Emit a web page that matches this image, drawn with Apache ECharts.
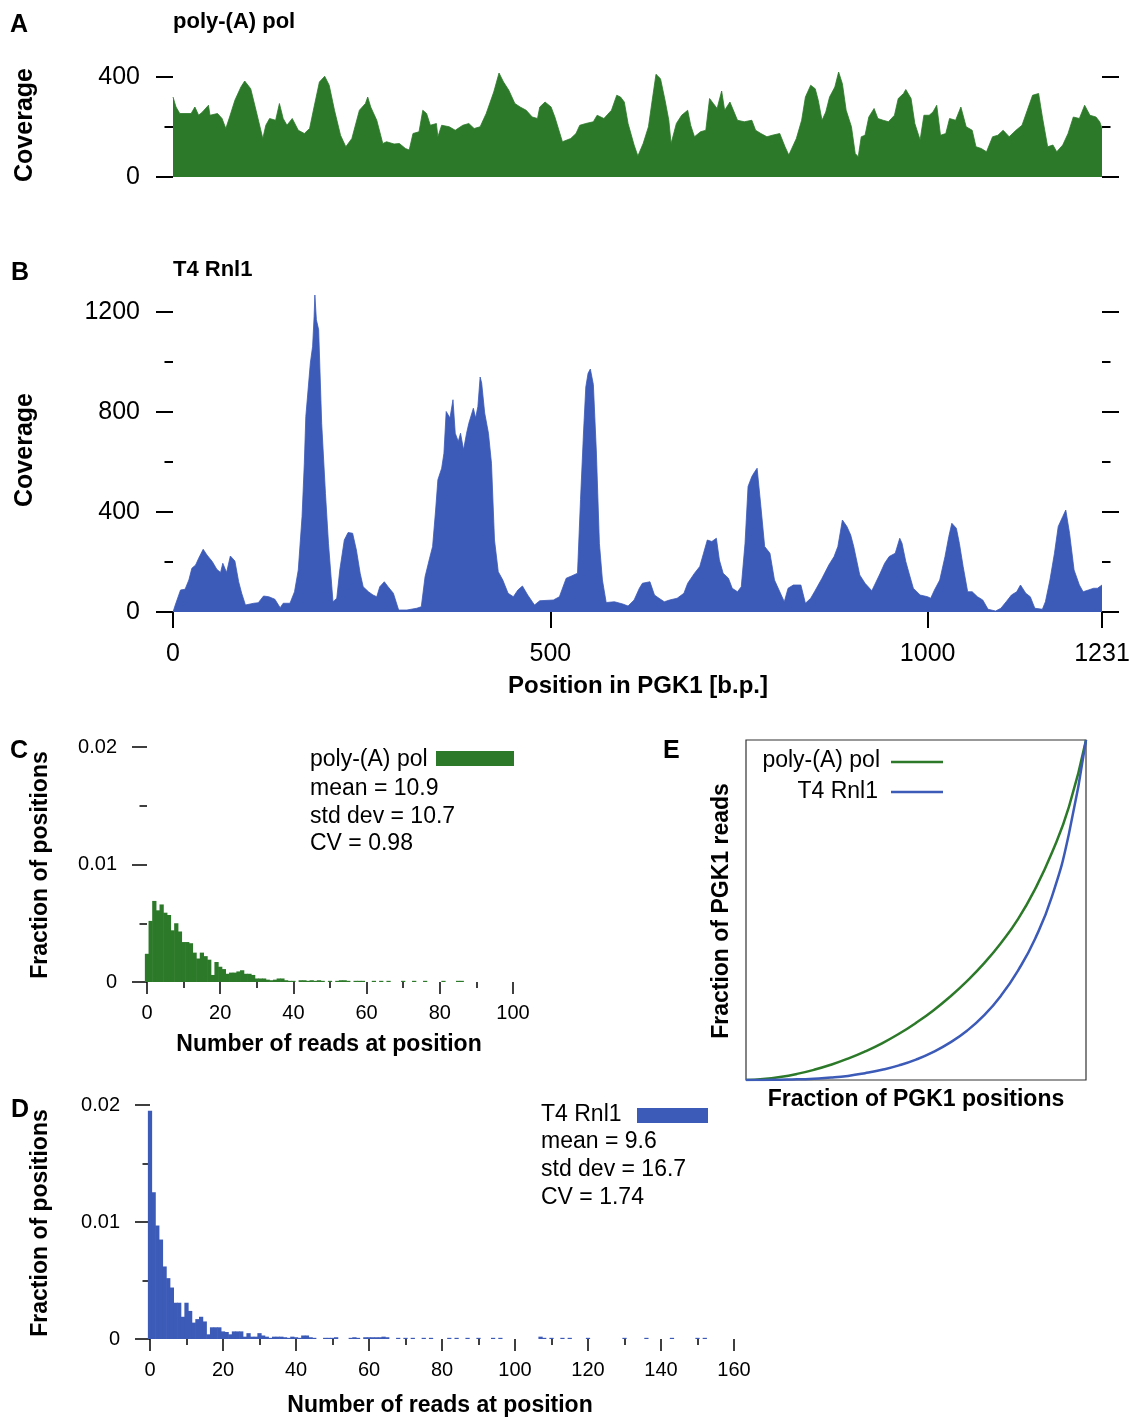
<!DOCTYPE html>
<html>
<head>
<meta charset="utf-8">
<script src="https://cdn.jsdelivr.net/npm/echarts@6/dist/echarts.min.js"></script>
<style>
  html, body { margin: 0; padding: 0; background: #fff; }
  #chart { width: 1140px; height: 1423px; }
</style>
</head>
<body>
<div id="chart"></div>
<script>
// ---- Coverage along PGK1 (position in b.p. -> read coverage) ----
const posA = [0, 4, 9, 24, 29, 34, 39, 47, 49, 59, 65, 70, 75, 82, 90, 95, 103, 110, 119, 123,
  128, 136, 141, 146, 151, 158, 166, 174, 181, 186, 194, 201, 207, 214, 222, 229, 237, 247, 255, 258,
  262, 270, 278, 283, 293, 300, 308, 313, 318, 326, 331, 336, 341, 349, 351, 356, 366, 374, 384, 392,
  399, 407, 415, 425, 432, 438, 445, 453, 460, 468, 476, 483, 486, 493, 501, 506, 516, 527, 534, 539,
  547, 557, 562, 571, 581, 588, 593, 598, 603, 611, 616, 623, 630, 635, 640, 646, 652, 657, 660, 667,
  674, 682, 686, 691, 699, 706, 711, 716, 721, 727, 731, 738, 748, 757, 767, 772, 779, 787, 794, 804,
  811, 816, 826, 833, 838, 845, 851, 855, 860, 865, 870, 877, 882, 887, 892, 899, 904, 908, 912, 917,
  922, 929, 934, 941, 948, 956, 961, 968, 971, 978, 983, 990, 995, 1002, 1007, 1012, 1017, 1024, 1029, 1037,
  1044, 1051, 1059, 1064, 1071, 1078, 1086, 1093, 1100, 1108, 1117, 1125, 1132, 1139, 1147, 1152, 1159, 1166, 1171, 1179,
  1186, 1193, 1201, 1208, 1215, 1223, 1228, 1231];
const covA = [320, 280, 254, 254, 280, 247, 260, 287, 247, 254, 234, 194, 240, 307, 360, 384, 353, 267, 154, 207,
  234, 227, 294, 234, 207, 234, 187, 174, 194, 267, 380, 403, 367, 267, 167, 121, 154, 267, 294, 320,
  280, 227, 134, 141, 132, 134, 114, 108, 174, 181, 267, 254, 207, 214, 161, 207, 201, 187, 207, 214,
  194, 201, 254, 340, 416, 380, 347, 294, 280, 267, 240, 234, 280, 300, 280, 240, 141, 154, 174, 207,
  214, 221, 247, 234, 267, 327, 320, 300, 214, 128, 84, 134, 201, 307, 411, 393, 307, 227, 134, 214,
  247, 267, 207, 161, 181, 187, 314, 294, 274, 344, 267, 300, 227, 221, 227, 187, 174, 161, 167, 174,
  121, 88, 154, 227, 320, 367, 353, 307, 227, 260, 320, 360, 420, 373, 267, 201, 94, 81, 161, 167,
  240, 274, 234, 227, 221, 247, 314, 334, 350, 314, 214, 148, 247, 247, 260, 287, 167, 174, 234, 227,
  280, 201, 187, 121, 114, 101, 161, 167, 187, 161, 187, 207, 267, 327, 334, 240, 121, 128, 101, 128,
  174, 240, 234, 287, 247, 240, 221, 194];

const posB = [0, 3, 10, 16, 21, 25, 30, 34, 40, 45, 47, 52, 58, 63, 66, 71, 76, 82, 87, 91,
  96, 107, 113, 120, 127, 135, 142, 146, 155, 161, 166, 171, 174, 176, 182, 185, 187, 188, 190, 193,
  197, 202, 206, 212, 217, 221, 227, 232, 238, 243, 248, 252, 259, 265, 270, 274, 280, 285, 292, 299,
  310, 323, 329, 334, 340, 344, 348, 351, 356, 359, 362, 367, 371, 374, 378, 381, 385, 389, 392, 398,
  401, 404, 407, 409, 413, 418, 422, 426, 431, 437, 444, 451, 457, 463, 470, 479, 486, 504, 512, 521,
  528, 536, 540, 544, 547, 550, 553, 557, 561, 565, 569, 574, 585, 596, 603, 611, 618, 622, 632, 638,
  644, 651, 658, 668, 677, 682, 691, 698, 703, 708, 714, 720, 724, 729, 736, 741, 748, 753, 758, 762,
  767, 771, 774, 779, 784, 791, 797, 803, 810, 815, 822, 832, 838, 845, 850, 860, 869, 876, 881, 887,
  893, 898, 902, 910, 917, 926, 936, 943, 949, 957, 963, 966, 971, 976, 981, 990, 1000, 1004, 1009, 1016,
  1023, 1028, 1032, 1038, 1042, 1047, 1053, 1059, 1066, 1073, 1080, 1090, 1097, 1104, 1111, 1118, 1123, 1130, 1136, 1142,
  1152, 1156, 1162, 1168, 1173, 1179, 1183, 1188, 1194, 1201, 1206, 1213, 1220, 1225, 1231];
const covB = [0, 28, 88, 91, 128, 175, 188, 215, 251, 228, 232, 202, 171, 158, 195, 158, 224, 204, 121, 75,
  28, 35, 37, 64, 61, 51, 17, 35, 35, 81, 168, 382, 595, 782, 996, 1063, 1183, 1268, 1169, 1129,
  755, 475, 275, 41, 55, 168, 288, 318, 315, 248, 155, 101, 81, 68, 61, 101, 121, 101, 75, 8,
  8, 15, 21, 141, 215, 262, 408, 529, 575, 635, 802, 776, 849, 715, 682, 715, 649, 715, 755, 815,
  776, 822, 940, 916, 796, 715, 595, 288, 161, 128, 75, 61, 88, 104, 68, 28, 45, 48, 61, 135,
  144, 155, 450, 720, 900, 955, 972, 910, 640, 275, 128, 38, 41, 32, 24, 48, 95, 115, 121, 68,
  55, 41, 48, 55, 75, 115, 155, 182, 235, 288, 282, 295, 208, 155, 135, 95, 81, 101, 275, 502,
  542, 562, 575, 422, 262, 235, 128, 88, 41, 95, 108, 108, 35, 55, 81, 135, 188, 222, 262, 368,
  342, 308, 262, 148, 115, 85, 148, 195, 222, 235, 295, 275, 202, 148, 95, 68, 61, 55, 88, 128,
  222, 302, 355, 335, 275, 182, 81, 81, 61, 48, 11, 4, 15, 41, 68, 81, 108, 75, 61, 15,
  11, 41, 128, 235, 342, 382, 408, 315, 168, 108, 81, 88, 95, 95, 108];

const positionTicks = [0, 500, 1000, 1231];

// ---- Read-count histograms (bin = reads at a position, value = fraction of positions) ----
const fracC = [0.0024, 0.0052, 0.0069, 0.0061, 0.0066, 0.0059, 0.0057, 0.0044, 0.0050, 0.0043,
  0.0034, 0.0034, 0.0033, 0.0025, 0.0020, 0.0025, 0.0022, 0.0019, 0.0006, 0.0017,
  0.0013, 0.0011, 0.0007, 0.0008, 0.0008, 0.0009, 0.0010, 0.0007, 0.0007, 0.0006,
  0.0003, 0.0003, 0.0003, 0.0002, 0.00015, 0.0002, 0.0003, 0.0003, 0.00015, 0.0001,
  0.0001];
const tailBinsC = [42, 43, 44, 45, 46, 47, 48, 50, 52, 53, 54, 55, 57, 58, 59, 62, 64, 66, 70, 73, 76, 81, 85, 86];
const tailFracC = [0.00015, 0.00015, 0.0001, 0.00015, 0.0001, 0.00015, 0.0001, 0.0001, 0.0001, 0.00015, 0.00015, 0.0001,
  0.0001, 0.0001, 0.0001, 0.0001, 0.0001, 0.0001, 0.0001, 0.0001, 0.0001, 0.0001, 0.0001, 0.0001];

const fracD = [0.0195, 0.01255, 0.0097, 0.0085, 0.0062, 0.0052, 0.0044, 0.0031, 0.0031, 0.0019,
  0.0031, 0.0024, 0.0014, 0.0017, 0.0019, 0.0015, 0.0004, 0.0010, 0.0010, 0.0010,
  0.00065, 0.0006, 0.0004, 0.00065, 0.00065, 0.00065, 0.0002, 0.0005, 0.0002, 0.0002,
  0.0005, 0.0003, 0.0002, 0.0001, 0.0002, 0.0002, 0.0002, 0.00015, 0.0001, 0.0002,
  0.00015, 0.0001, 0.0003, 0.0003, 0.00015, 0.0001];
const tailBinsD = [48, 49, 50, 51, 55, 56, 57, 59, 60, 61, 62, 63, 64, 65, 68, 70, 72, 75, 77, 82,
  84, 87, 90, 94, 96, 107, 108, 110, 113, 115, 120, 130, 136, 143, 150, 152];
const tailFracD = [0.0001, 0.0001, 0.0001, 0.00015, 0.0001, 0.00015, 0.0001, 0.00015, 0.00015, 0.00015,
  0.00015, 0.00015, 0.0002, 0.00015, 0.0001, 0.0001, 0.0001, 0.0001, 0.0001, 0.0001,
  0.0001, 0.0001, 0.0001, 0.0001, 0.0001, 0.0002, 0.0001, 0.0001, 0.0001, 0.0001,
  0.0001, 0.0001, 0.0001, 0.0001, 0.0001, 0.0001];

// ---- Cumulative read fraction vs. fraction of positions ----
const lorenzX = [0, 0.05, 0.1, 0.15, 0.2, 0.25, 0.3, 0.35, 0.4, 0.45, 0.5,
  0.55, 0.6, 0.65, 0.7, 0.75, 0.8, 0.85, 0.9, 0.95, 1];
const lorenzPolyA = [0, 0.003, 0.009, 0.018, 0.030, 0.045, 0.063, 0.084, 0.108, 0.136, 0.168,
  0.204, 0.245, 0.291, 0.343, 0.403, 0.473, 0.561, 0.669, 0.804, 1];
const lorenzRnl1 = [0, 0, 0.001, 0.002, 0.004, 0.007, 0.012, 0.020, 0.030, 0.043, 0.060,
  0.082, 0.11, 0.145, 0.19, 0.248, 0.322, 0.415, 0.54, 0.725, 1];

const statsC = ['mean = 10.9', 'std dev = 10.7', 'CV = 0.98'];
const statsD = ['mean = 9.6', 'std dev = 16.7', 'CV = 1.74'];

// ---- Styling ----
const GREEN = '#2c7a29';
const BLUE = '#3c5ab7';
const FONT = '"Liberation Sans", Arial, Helvetica, sans-serif';

function pairs(xs, ys) { return xs.map((x, i) => [x, ys[i]]); }
const plain = (v) => String(v);

function coverageYAxis(grid, max, position, withLabels) {
  return {
    gridIndex: grid, type: 'value', position: position, min: 0, max: max, interval: 400,
    axisLine: { show: false },
    axisTick: { show: true, length: 17, lineStyle: { color: '#000', width: 2 } },
    minorTick: { show: true, splitNumber: 2, length: 8.5, lineStyle: { color: '#000', width: 2 } },
    axisLabel: { show: withLabels, fontSize: 25, fontFamily: FONT, color: '#000', margin: 33, formatter: plain },
    splitLine: { show: false }, minorSplitLine: { show: false }
  };
}

function histXAxis(grid, max) {
  return {
    gridIndex: grid, type: 'value', min: 0, max: max, interval: 20, offset: 2,
    axisLine: { show: false },
    axisTick: { show: true, length: 12, lineStyle: { color: '#000', width: 1.5 } },
    minorTick: { show: true, splitNumber: 2, length: 6, lineStyle: { color: '#000', width: 1.5 } },
    axisLabel: { fontSize: 20, fontFamily: FONT, color: '#000', margin: 19, formatter: plain },
    splitLine: { show: false }, minorSplitLine: { show: false }
  };
}

function histYAxis(grid) {
  return {
    gridIndex: grid, type: 'value', min: 0, max: 0.02, interval: 0.01, offset: 1,
    axisLine: { show: false },
    axisTick: { show: true, length: 15, lineStyle: { color: '#000', width: 1.5 } },
    minorTick: { show: true, splitNumber: 2, length: 7.5, lineStyle: { color: '#000', width: 1.5 } },
    axisLabel: { fontSize: 20, fontFamily: FONT, color: '#000', margin: 29, formatter: plain },
    splitLine: { show: false }, minorSplitLine: { show: false }
  };
}

// one rectangle per read-count bin, spanning [bin - 0.5, bin + 0.5];
// a small overlap keeps neighbouring bars from showing hairline seams
function histRender(color) {
  return function (params, api) {
    const bin = api.value(0);
    const frac = api.value(1);
    const lo = api.coord([bin - 0.5, 0]);
    const hi = api.coord([bin + 0.5, frac]);
    return {
      type: 'rect',
      shape: { x: lo[0] - 0.3, y: hi[1], width: hi[0] - lo[0] + 0.6, height: lo[1] - hi[1] },
      style: { fill: color }
    };
  };
}

function txt(text, x, y, size, bold, align, rotate) {
  return {
    type: 'text', x: x, y: y, rotation: rotate ? Math.PI / 2 : 0, silent: true,
    style: {
      text: text, fill: '#000', fontSize: size, fontFamily: FONT,
      fontWeight: bold ? 'bold' : 'normal',
      align: align || 'left', verticalAlign: 'middle',
      textAlign: align || 'left', textVerticalAlign: 'middle'
    }
  };
}

const histBinsC = fracC.map((_, i) => i).concat(tailBinsC);
const histFracC = fracC.concat(tailFracC);
const histBinsD = fracD.map((_, i) => i).concat(tailBinsD);
const histFracD = fracD.concat(tailFracD);

const chart = echarts.init(document.getElementById('chart'), null, { renderer: 'canvas' });

const option = {
  animation: false,
  backgroundColor: '#fff',
  textStyle: { fontFamily: FONT },
  grid: [
    { left: 173, top: 77, width: 929, height: 100, outerBoundsMode: 'none' },
    { left: 173, top: 312, width: 929, height: 300, outerBoundsMode: 'none' },
    { left: 147, top: 747, width: 366, height: 235, outerBoundsMode: 'none' },
    { left: 150, top: 1105, width: 584, height: 234, outerBoundsMode: 'none' },
    { left: 746, top: 740, width: 340, height: 340, show: true, borderColor: '#333', borderWidth: 1.2,
      backgroundColor: 'transparent', outerBoundsMode: 'none' }
  ],
  xAxis: [
    { gridIndex: 0, type: 'value', min: 0, max: 1231, show: false },
    {
      gridIndex: 1, type: 'value', min: 0, max: 1231, interval: 500,
      axisLine: { show: false },
      axisTick: { show: true, length: 16, customValues: positionTicks, lineStyle: { color: '#000', width: 2 } },
      axisLabel: { customValues: positionTicks, fontSize: 25, fontFamily: FONT, color: '#000', margin: 30, formatter: plain },
      splitLine: { show: false }
    },
    histXAxis(2, 100),
    histXAxis(3, 160),
    { gridIndex: 4, type: 'value', min: 0, max: 1, show: false }
  ],
  yAxis: [
    coverageYAxis(0, 400, 'left', true),
    coverageYAxis(0, 400, 'right', false),
    coverageYAxis(1, 1200, 'left', true),
    coverageYAxis(1, 1200, 'right', false),
    histYAxis(2),
    histYAxis(3),
    { gridIndex: 4, type: 'value', min: 0, max: 1, show: false }
  ],
  series: [
    {
      name: 'poly-(A) pol', type: 'line', xAxisIndex: 0, yAxisIndex: 0,
      data: pairs(posA, covA), symbol: 'none', clip: false,
      lineStyle: { color: GREEN, width: 0.8 }, areaStyle: { color: GREEN, opacity: 1 }
    },
    {
      name: 'T4 Rnl1', type: 'line', xAxisIndex: 1, yAxisIndex: 2,
      data: pairs(posB, covB), symbol: 'none', clip: false,
      lineStyle: { color: BLUE, width: 0.8 }, areaStyle: { color: BLUE, opacity: 1 }
    },
    {
      name: 'poly-(A) pol histogram', type: 'custom', xAxisIndex: 2, yAxisIndex: 4,
      data: pairs(histBinsC, histFracC), encode: { x: 0, y: 1 },
      renderItem: histRender(GREEN)
    },
    {
      name: 'T4 Rnl1 histogram', type: 'custom', xAxisIndex: 3, yAxisIndex: 5,
      data: pairs(histBinsD, histFracD), encode: { x: 0, y: 1 },
      renderItem: histRender(BLUE)
    },
    {
      name: 'poly-(A) pol cumulative', type: 'line', xAxisIndex: 4, yAxisIndex: 6,
      data: pairs(lorenzX, lorenzPolyA), symbol: 'none', smooth: 0.5,
      lineStyle: { color: GREEN, width: 2.5 }
    },
    {
      name: 'T4 Rnl1 cumulative', type: 'line', xAxisIndex: 4, yAxisIndex: 6,
      data: pairs(lorenzX, lorenzRnl1), symbol: 'none', smooth: 0.5,
      lineStyle: { color: BLUE, width: 2.5 }
    }
  ],
  graphic: [
    // panel A
    txt('A', 10, 25, 25, true),
    txt('poly-(A) pol', 173, 22, 22, true),
    txt('Coverage', 25, 125, 25, true, 'center', true),
    // panel B
    txt('B', 11, 273, 25, true),
    txt('T4 Rnl1', 173, 270, 22, true),
    txt('Coverage', 25, 450, 25, true, 'center', true),
    txt('Position in PGK1 [b.p.]', 638, 686, 24, true, 'center'),
    // panel C
    txt('C', 10, 751, 25, true),
    txt('Fraction of positions', 41, 865, 23, true, 'center', true),
    txt('poly-(A) pol', 310, 760, 23, false),
    { type: 'rect', shape: { x: 436, y: 751, width: 78, height: 15 }, style: { fill: GREEN }, silent: true },
    txt(statsC[0], 310, 789, 23, false),
    txt(statsC[1], 310, 817, 23, false),
    txt(statsC[2], 310, 844, 23, false),
    txt('Number of reads at position', 329, 1045, 23, true, 'center'),
    // panel D
    txt('D', 11, 1110, 25, true),
    txt('Fraction of positions', 41, 1223, 23, true, 'center', true),
    txt('T4 Rnl1', 541, 1115, 23, false),
    { type: 'rect', shape: { x: 637, y: 1108, width: 71, height: 15 }, style: { fill: BLUE }, silent: true },
    txt(statsD[0], 541, 1142, 23, false),
    txt(statsD[1], 541, 1170, 23, false),
    txt(statsD[2], 541, 1198, 23, false),
    txt('Number of reads at position', 440, 1406, 23, true, 'center'),
    // panel E
    txt('E', 663, 751, 25, true),
    txt('Fraction of PGK1 reads', 722, 911, 23, true, 'center', true),
    txt('Fraction of PGK1 positions', 916, 1100, 23, true, 'center'),
    txt('poly-(A) pol', 880, 761, 23, false, 'right'),
    { type: 'line', shape: { x1: 891, y1: 762, x2: 943, y2: 762 }, style: { stroke: GREEN, lineWidth: 2.5 }, silent: true },
    txt('T4 Rnl1', 878, 792, 23, false, 'right'),
    { type: 'line', shape: { x1: 891, y1: 792, x2: 943, y2: 792 }, style: { stroke: BLUE, lineWidth: 2.5 }, silent: true }
  ]
};

chart.setOption(option);
</script>
</body>
</html>
